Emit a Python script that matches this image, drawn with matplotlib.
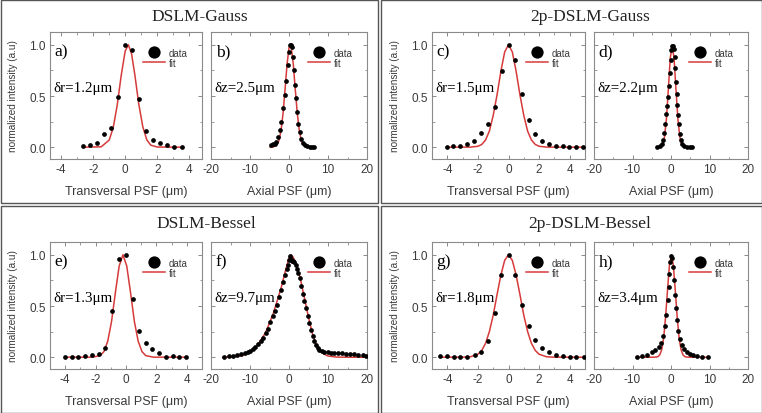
import matplotlib
matplotlib.use("Agg")
import matplotlib.pyplot as plt
from matplotlib.patches import Rectangle
from matplotlib.ticker import MultipleLocator

plt.rcParams["axes.unicode_minus"] = False

W, H = 762, 414

# a) DSLM-Gauss, transversal
a_x = [-2.63, -2.21, -1.79, -1.33, -0.91, -0.48, -0.02, 0.42, 0.85, 1.29, 1.75, 2.18, 2.6, 3.06, 3.53]
a_y = [0.01, 0.02, 0.04, 0.13, 0.19, 0.49, 1.0, 0.95, 0.47, 0.16, 0.07, 0.04, 0.02, 0.0, 0.0]
a_fit_x = [-2.6, -1.5, -1.0, -0.75, -0.5, -0.25, 0.0, 0.2, 0.4, 0.6, 0.85, 1.1, 1.35, 1.6, 2.0, 3.5]
a_fit_y = [0.0, 0.004, 0.07, 0.19, 0.41, 0.70, 0.94, 1.0, 0.91, 0.71, 0.42, 0.20, 0.072, 0.02, 0.002, 0.0]

# b) DSLM-Gauss, axial
b_x = [-4.54, -4.1, -3.68, -3.25, -2.82, -2.4, -1.97, -1.54, -1.12, -0.69, -0.35, 0.0, 0.33, 0.59,
       0.85, 1.1, 1.36, 1.62, 1.87, 2.13, 2.39, 2.73, 3.15, 3.59, 4.1, 4.62, 5.3, 5.97, 6.3]
b_y = [0.02, 0.03, 0.035, 0.05, 0.10, 0.166, 0.25, 0.38, 0.51, 0.65, 0.80, 0.93, 0.995, 1.0,
       0.98, 0.88, 0.75, 0.61, 0.48, 0.345, 0.23, 0.15, 0.085, 0.042, 0.02, 0.01, 0.005, 0.0, 0.005]
b_fit_x = [-4.8, -4.0, -3.0, -2.5, -2.0, -1.5, -1.0, -0.5, 0.0, 0.3, 0.6, 1.1, 1.6, 2.1, 2.6, 3.1, 3.6, 4.6, 5.5]
b_fit_y = [0.0, 0.002, 0.028, 0.075, 0.175, 0.34, 0.57, 0.81, 0.97, 1.0, 0.97, 0.81, 0.57, 0.34, 0.175, 0.075, 0.028, 0.002, 0.0]

# c) 2p-DSLM-Gauss, transversal
c_x = [-4.03, -3.6, -3.16, -2.73, -2.25, -1.8, -1.36, -0.91, -0.45, 0.0, 0.41, 0.87, 1.32, 1.75,
       2.19, 2.64, 3.1, 3.55, 3.98, 4.42, 4.85]
c_y = [0.0, 0.01, 0.016, 0.035, 0.06, 0.14, 0.224, 0.39, 0.74, 1.0, 0.85, 0.52, 0.27, 0.127,
       0.06, 0.029, 0.016, 0.01, 0.0, 0.0, 0.0]
c_fit_x = [-4.0, -2.5, -2.0, -1.75, -1.5, -1.25, -1.0, -0.75, -0.5, -0.25, 0.0, 0.25, 0.5, 0.75,
           1.0, 1.25, 1.5, 1.75, 2.0, 2.5, 5.0]
c_fit_y = [0.0, 0.001, 0.009, 0.027, 0.07, 0.157, 0.31, 0.51, 0.74, 0.93, 1.0, 0.93, 0.74, 0.51,
           0.31, 0.157, 0.07, 0.027, 0.009, 0.001, 0.0]

# d) 2p-DSLM-Gauss, axial
d_x = [-3.55, -2.94, -2.42, -2.08, -1.73, -1.47, -1.21, -0.95, -0.69, -0.52, -0.26, -0.09, 0.09, 0.26,
       0.52, 0.78, 0.95, 1.13, 1.3, 1.47, 1.64, 1.82, 1.99, 2.25, 2.6, 2.94, 3.46, 4.16, 4.85, 5.54]
d_y = [0.0, 0.01, 0.03, 0.07, 0.14, 0.23, 0.32, 0.40, 0.49, 0.60, 0.72, 0.85, 0.95, 0.99,
       0.99, 0.96, 0.88, 0.77, 0.64, 0.52, 0.41, 0.31, 0.23, 0.13, 0.07, 0.035, 0.016, 0.003, 0.0, 0.0]
d_fit_x = [-3.6, -2.7, -2.2, -1.7, -1.2, -0.7, -0.2, 0.3, 0.8, 1.3, 1.8, 2.3, 2.8, 3.3, 3.8, 5.5]
d_fit_y = [0.0, 0.0055, 0.027, 0.099, 0.27, 0.56, 0.866, 1.0, 0.866, 0.56, 0.27, 0.099, 0.027, 0.0055, 0.0, 0.0]

# e) DSLM-Bessel, transversal
e_x = [-3.99, -3.56, -3.13, -2.69, -2.22, -1.79, -1.35, -0.9, -0.44, 0.01, 0.44, 0.88, 1.31, 1.74,
       2.18, 2.61, 3.06, 3.5, 3.97]
e_y = [0.0, 0.0, 0.0, 0.01, 0.02, 0.03, 0.09, 0.45, 0.96, 1.0, 0.57, 0.26, 0.14, 0.077,
       0.04, 0.0, 0.01, 0.0, 0.0]
e_fit_x = [-4.0, -2.2, -1.7, -1.45, -1.2, -0.95, -0.7, -0.45, -0.2, 0.05, 0.3, 0.55, 0.8, 1.05,
           1.3, 1.8, 4.0]
e_fit_y = [0.0, 0.0006, 0.0155, 0.055, 0.157, 0.35, 0.63, 0.89, 1.0, 0.89, 0.63, 0.35, 0.157, 0.055,
           0.0155, 0.0006, 0.0]

# f) DSLM-Bessel, axial
f_x = [-16.6, -15.5, -14.4, -13.3, -12.3, -11.4, -10.6, -9.9, -9.3, -8.6, -8.0, -7.3, -6.7, -6.0,
       -5.4, -4.8, -4.2, -3.7, -3.2, -2.6, -2.0, -1.5, -1.0, -0.6, -0.3, 0.0, 0.3, 0.6, 0.8, 1.1,
       1.4, 1.7, 2.0, 2.3, 2.7, 3.1, 3.5, 3.9, 4.4, 4.8, 5.2, 5.6, 6.1, 6.5, 6.9, 7.4, 7.8, 8.4,
       9.1, 9.9, 10.8, 11.6, 12.5, 13.5, 14.6, 15.6, 16.7, 17.8, 18.9, 19.7]
f_y = [0.007, 0.012, 0.016, 0.024, 0.032, 0.04, 0.048, 0.062, 0.08, 0.10, 0.128, 0.16, 0.19, 0.235,
       0.28, 0.34, 0.40, 0.455, 0.51, 0.585, 0.655, 0.73, 0.80, 0.86, 0.90, 0.95, 0.99, 0.96, 0.94, 0.935,
       0.93, 0.90, 0.86, 0.82, 0.77, 0.70, 0.62, 0.55, 0.48, 0.40, 0.33, 0.27, 0.21, 0.16, 0.12, 0.09,
       0.07, 0.06, 0.05, 0.047, 0.043, 0.045, 0.04, 0.042, 0.035, 0.033, 0.03, 0.025, 0.02, 0.015]
f_fit_x = [-17, -14, -12, -10, -8, -6, -4, -2, -1, 0, 0.5, 1, 2, 3, 4, 5, 6, 7, 8, 9, 10, 12, 15, 20]
f_fit_y = [0.0, 0.005, 0.015, 0.045, 0.12, 0.24, 0.43, 0.68, 0.83, 0.97, 1.0, 0.98, 0.9, 0.75, 0.57,
           0.39, 0.23, 0.12, 0.06, 0.03, 0.012, 0.002, 0.0, 0.0]

# g) 2p-DSLM-Bessel, transversal
g_x = [-4.45, -4.01, -3.57, -3.14, -2.7, -2.21, -1.78, -1.34, -0.9, -0.46, 0.0, 0.44, 0.88, 1.32,
       1.75, 2.19, 2.63, 3.09, 3.55, 3.99, 4.43, 4.91]
g_y = [0.013, 0.01, 0.006, 0.006, 0.006, 0.02, 0.048, 0.16, 0.43, 0.80, 1.0, 0.80, 0.51, 0.30,
       0.17, 0.09, 0.05, 0.02, 0.01, 0.005, 0.0, 0.0]
g_fit_x = [-4.5, -3.0, -2.5, -2.0, -1.75, -1.5, -1.25, -1.0, -0.75, -0.5, -0.25, 0.0, 0.25, 0.5,
           0.75, 1.0, 1.25, 1.5, 1.75, 2.0, 2.5, 3.0, 5.0]
g_fit_y = [0.0, 0.0003, 0.004, 0.029, 0.066, 0.135, 0.25, 0.41, 0.61, 0.80, 0.946, 1.0, 0.946, 0.80,
           0.61, 0.41, 0.25, 0.135, 0.066, 0.029, 0.004, 0.0003, 0.0]

# h) 2p-DSLM-Bessel, axial
h_x = [-8.8, -7.53, -6.24, -4.95, -4.09, -3.23, -2.54, -2.02, -1.59, -1.25, -0.9, -0.64, -0.39, -0.13,
       0.04, 0.3, 0.56, 0.82, 1.08, 1.33, 1.59, 1.94, 2.37, 2.89, 3.49, 4.18, 4.95, 5.81, 6.67, 7.96, 9.5]
h_y = [0.006, 0.013, 0.026, 0.048, 0.07, 0.10, 0.143, 0.208, 0.30, 0.415, 0.56, 0.69, 0.815, 0.926,
       0.984, 0.965, 0.88, 0.75, 0.61, 0.48, 0.36, 0.255, 0.175, 0.12, 0.083, 0.054, 0.032, 0.019,
       0.013, 0.006, 0.003]
h_fit_x = [-9.0, -4.9, -3.9, -3.4, -2.9, -2.4, -1.9, -1.4, -0.9, -0.4, 0.1, 0.6, 1.1, 1.6, 2.1,
           2.6, 3.1, 3.6, 4.1, 5.1, 9.5]
h_fit_y = [0.0, 0.0, 0.0014, 0.006, 0.024, 0.076, 0.19, 0.395, 0.66, 0.90, 1.0, 0.90, 0.66, 0.395,
           0.19, 0.076, 0.024, 0.006, 0.0014, 0.0, 0.0]

titles = ["DSLM-Gauss", "2p-DSLM-Gauss", "DSLM-Bessel", "2p-DSLM-Bessel"]

SERIF = "Liberation Serif"
SANS = "Liberation Sans"
TXT = "#3a3a3a"
SPINE = "#8a8a8a"
RED = "#d63a3a"

fig = plt.figure(figsize=(W / 100, H / 100), dpi=100)
fig.patch.set_facecolor("white")


def px_axes(l, r, t, b):
    return fig.add_axes([l / W, 1 - b / H, (r - l) / W, (b - t) / H])


def draw(ax, x, y, fx, fy, letter, note, xlim, major, xlabel, ylabel):
    ax.plot(fx, fy, color=RED, lw=1.1, label="fit", zorder=2)
    ax.plot(x, y, "o", color="black", ms=3.4, mew=0, label="data", zorder=3)
    ax.set_xlim(*xlim)
    ax.set_ylim(-0.115, 1.125)
    ax.xaxis.set_major_locator(MultipleLocator(major))
    ax.xaxis.set_minor_locator(MultipleLocator(major / 2))
    ax.yaxis.set_major_locator(MultipleLocator(0.5))
    ax.yaxis.set_minor_locator(MultipleLocator(0.25))
    ax.tick_params(which="both", direction="in", top=True, right=True, colors=SPINE,
                   labelcolor=TXT, labelsize=8.5, pad=3)
    ax.tick_params(which="major", length=3, width=0.7)
    ax.tick_params(which="minor", length=1.8, width=0.6)
    for lbl in ax.get_xticklabels() + ax.get_yticklabels():
        lbl.set_fontfamily(SANS)
    for s in ax.spines.values():
        s.set_color(SPINE)
        s.set_linewidth(0.8)
    ax.set_xlabel(xlabel, fontsize=9, color=TXT, family=SANS, labelpad=7)
    if ylabel:
        ax.set_ylabel("normalized intensity (a.u)", fontsize=7.2, color=TXT, family=SANS, labelpad=8)
        ax.yaxis.set_major_formatter(plt.FormatStrFormatter("%.1f"))
    else:
        ax.set_yticklabels([])
    ax.text(0.03, 0.85, letter, transform=ax.transAxes, family=SERIF, fontsize=12.5,
            color="black", va="center", ha="left")
    ax.text(0.02, 0.565, note, transform=ax.transAxes, family=SERIF, fontsize=10.8,
            color="black", va="center", ha="left")
    h, l = ax.get_legend_handles_labels()
    leg = ax.legend(h[::-1], l[::-1], loc="upper right", bbox_to_anchor=(0.95, 0.93),
                    frameon=False, handlelength=2.2, handletextpad=0.4,
                    labelspacing=0.0, borderaxespad=0.3, markerscale=2.6,
                    prop={"family": SANS, "size": 7})
    for t in leg.get_texts():
        t.set_color(TXT)


tr = "Transversal PSF (\u03bcm)"
axl = "Axial PSF (\u03bcm)"

rows = [(33, 160), (243, 370)]
cols = [(50, 202), (211, 367), (432, 585), (594, 748)]

panels = [
    (0, 0, a_x, a_y, a_fit_x, a_fit_y, "a)", "\u03b4r=1.2\u03bcm", (-4.7, 4.8), 2, tr, True),
    (0, 1, b_x, b_y, b_fit_x, b_fit_y, "b)", "\u03b4z=2.5\u03bcm", (-20, 20), 10, axl, False),
    (0, 2, c_x, c_y, c_fit_x, c_fit_y, "c)", "\u03b4r=1.5\u03bcm", (-5, 5), 2, tr, True),
    (0, 3, d_x, d_y, d_fit_x, d_fit_y, "d)", "\u03b4z=2.2\u03bcm", (-20, 20), 10, axl, False),
    (1, 0, e_x, e_y, e_fit_x, e_fit_y, "e)", "\u03b4r=1.3\u03bcm", (-5, 5), 2, tr, True),
    (1, 1, f_x, f_y, f_fit_x, f_fit_y, "f)", "\u03b4z=9.7\u03bcm", (-20, 20), 10, axl, False),
    (1, 2, g_x, g_y, g_fit_x, g_fit_y, "g)", "\u03b4r=1.8\u03bcm", (-5, 5), 2, tr, True),
    (1, 3, h_x, h_y, h_fit_x, h_fit_y, "h)", "\u03b4z=3.4\u03bcm", (-20, 20), 10, axl, False),
]

for r, c, x, y, fx, fy, letter, note, xlim, major, xlabel, ylab in panels:
    t, b = rows[r]
    l, rr = cols[c]
    ax = px_axes(l, rr, t, b)
    draw(ax, x, y, fx, fy, letter, note, xlim, major, xlabel, ylab)

# panel frames and titles
boxes = [(0.5, 377.5, 0.5, 204), (381.5, 761.5, 0.5, 204), (0.5, 377.5, 207, 413.5), (381.5, 761.5, 207, 413.5)]
title_pos = [(200, 17), (590, 17), (206, 224), (590, 224)]
for (x0, x1, y0, y1), (tx, ty), title in zip(boxes, title_pos, titles):
    fig.add_artist(Rectangle((x0 / W, 1 - y1 / H), (x1 - x0) / W, (y1 - y0) / H,
                             transform=fig.transFigure, fill=False, ec="#555555", lw=1))
    fig.text(tx / W, 1 - ty / H, title, family=SERIF, fontsize=12.5, color="#222222",
             ha="center", va="center")

fig.savefig("out.png", dpi=100, facecolor="white")
